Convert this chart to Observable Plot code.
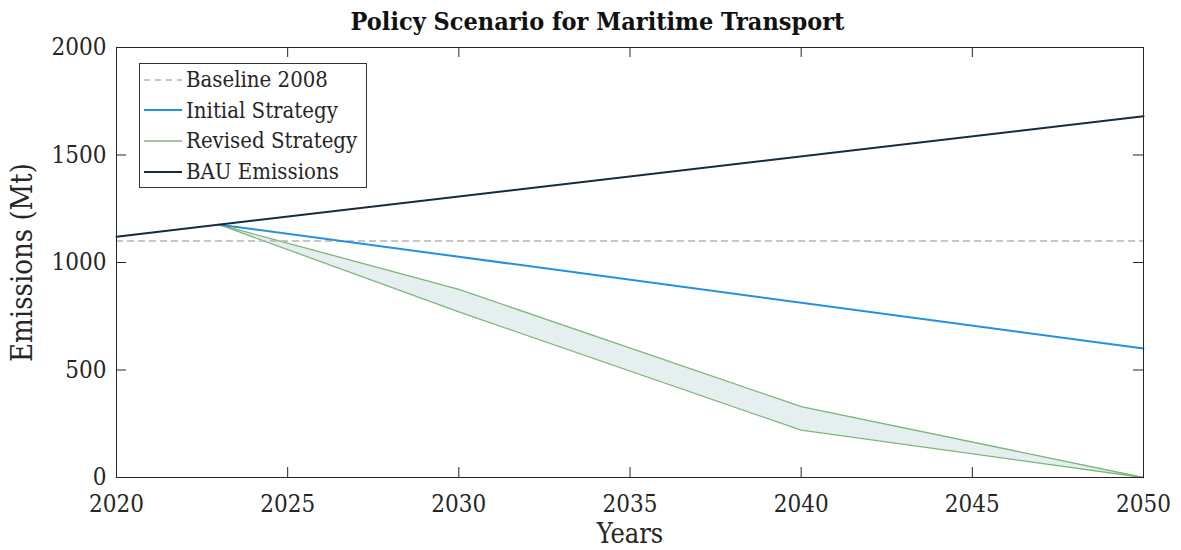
<!DOCTYPE html>
<html>
<head>
<meta charset="utf-8">
<script src="https://cdn.jsdelivr.net/npm/d3@7"></script>
<script src="https://cdn.jsdelivr.net/npm/@observablehq/plot@0.6"></script>
<style>
  html, body { margin: 0; padding: 0; background: #fff; }
  #wrap { position: relative; width: 1181px; height: 550px; font-family: "DejaVu Serif Condensed", "DejaVu Serif", serif; color: #262626; }
  #title { height: 40px; line-height: 44px; text-align: center; font-weight: bold; font-size: 25px; color: #111; padding-left: 14px; }
  #legend { position: absolute; left: 139px; top: 63px; width: 228px; height: 125px; border: 1px solid #333; background: #fff; box-sizing: border-box; font-size: 22px; }
  .row { position: absolute; left: 3px; height: 31px; display: flex; align-items: center; }
  .row svg { width: 40px; height: 10px; margin-right: 3px; }
</style>
</head>
<body>
<div id="wrap">
  <div id="title">Policy Scenario for Maritime Transport</div>
  <div id="chart"></div>
  <div id="legend"></div>
</div>
<script>
// Axis ticks
const xTicks = [2020, 2025, 2030, 2035, 2040, 2045, 2050];
const yTicks = [0, 500, 1000, 1500, 2000];

// Business-as-usual emissions (Mt)
const bauYears = [2020, 2050];
const bauValues = [1120, 1680];

// 2008 baseline level (Mt)
const baselineYears = [2020, 2050];
const baselineValue = 1100;

// Initial strategy pathway
const initialYears = [2023, 2050];
const initialValues = [1176, 600];

// Revised strategy range (upper / lower bound)
const revisedYears = [2023, 2030, 2040, 2050];
const revisedUpper = [1176, 875, 330, 0];
const revisedLower = [1176, 770, 220, 0];

const series = [
  {name: "Baseline 2008", color: "#b3b3b3", width: 1.6, dash: "6,5"},
  {name: "Initial Strategy", color: "#2490e2", width: 2, dash: null},
  {name: "Revised Strategy", color: "#7cb67c", width: 1.3, dash: null},
  {name: "BAU Emissions", color: "#172a3e", width: 2, dash: null}
];
const col = Object.fromEntries(series.map(s => [s.name, s]));

const bau = bauYears.map((x, i) => ({x, y: bauValues[i]}));
const baseline = baselineYears.map(x => ({x, y: baselineValue}));
const initial = initialYears.map((x, i) => ({x, y: initialValues[i]}));
const revised = revisedYears.map((x, i) => ({x, lo: revisedLower[i], hi: revisedUpper[i]}));

const W = 1181, H = 510, mT = 7, mB = 73, mL = 116, mR = 38;
const innerH = H - mT - mB, innerW = W - mL - mR;
const tickLen = 10;
const font = "DejaVu Serif Condensed, DejaVu Serif, serif";

const chart = Plot.plot({
  width: W,
  height: H,
  marginTop: mT,
  marginBottom: mB,
  marginLeft: mL,
  marginRight: mR,
  style: {fontFamily: font, fontSize: "24px", color: "#262626", background: "#fff", overflow: "visible"},
  x: {domain: [2020, 2050]},
  y: {domain: [0, 2000]},
  marks: [
    Plot.areaY(revised, {x: "x", y1: "lo", y2: "hi", fill: "#e6efef"}),
    Plot.line(revised, {x: "x", y: "hi", stroke: col["Revised Strategy"].color, strokeWidth: 1.3}),
    Plot.line(revised, {x: "x", y: "lo", stroke: col["Revised Strategy"].color, strokeWidth: 1.3}),
    Plot.line(baseline, {x: "x", y: "y", stroke: col["Baseline 2008"].color, strokeWidth: 1.6, strokeDasharray: "6,5"}),
    Plot.line(initial, {x: "x", y: "y", stroke: col["Initial Strategy"].color, strokeWidth: 2}),
    Plot.line(bau, {x: "x", y: "y", stroke: col["BAU Emissions"].color, strokeWidth: 2}),
    Plot.frame({stroke: "#262626", strokeWidth: 1}),
    // inward ticks on all four sides
    Plot.tickX(xTicks, {x: d => d, stroke: "#262626", insetTop: innerH - tickLen}),
    Plot.tickX(xTicks, {x: d => d, stroke: "#262626", insetBottom: innerH - tickLen}),
    Plot.tickY(yTicks, {y: d => d, stroke: "#262626", insetRight: innerW - tickLen}),
    Plot.tickY(yTicks, {y: d => d, stroke: "#262626", insetLeft: innerW - tickLen}),
    Plot.axisX({ticks: xTicks, tickFormat: d => String(d), tickSize: 0, tickPadding: 17, label: null, fill: "#262626"}),
    Plot.axisY({ticks: yTicks, tickFormat: d => String(d), tickSize: 0, tickPadding: 10, label: null, fill: "#262626"}),
    Plot.text(["Years"], {frameAnchor: "bottom", lineAnchor: "middle", dy: 57, fontSize: 27, fill: "#262626"}),
    Plot.text(["Emissions (Mt)"], {frameAnchor: "left", textAnchor: "middle", dx: -94, rotate: -90, fontSize: 29, fill: "#262626"})
  ]
});
document.getElementById("chart").appendChild(chart);

// Legend
const legend = document.getElementById("legend");
series.forEach((s, i) => {
  const row = document.createElement("div");
  row.className = "row";
  row.style.top = (i * 30.7) + "px";
  row.innerHTML = `<svg viewBox="0 0 40 10"><line x1="1" x2="39" y1="5" y2="5" stroke="${s.color}" stroke-width="${s.width}" ${s.dash ? `stroke-dasharray="${s.dash}"` : ""}/></svg><span>${s.name}</span>`;
  legend.appendChild(row);
});
</script>
</body>
</html>
